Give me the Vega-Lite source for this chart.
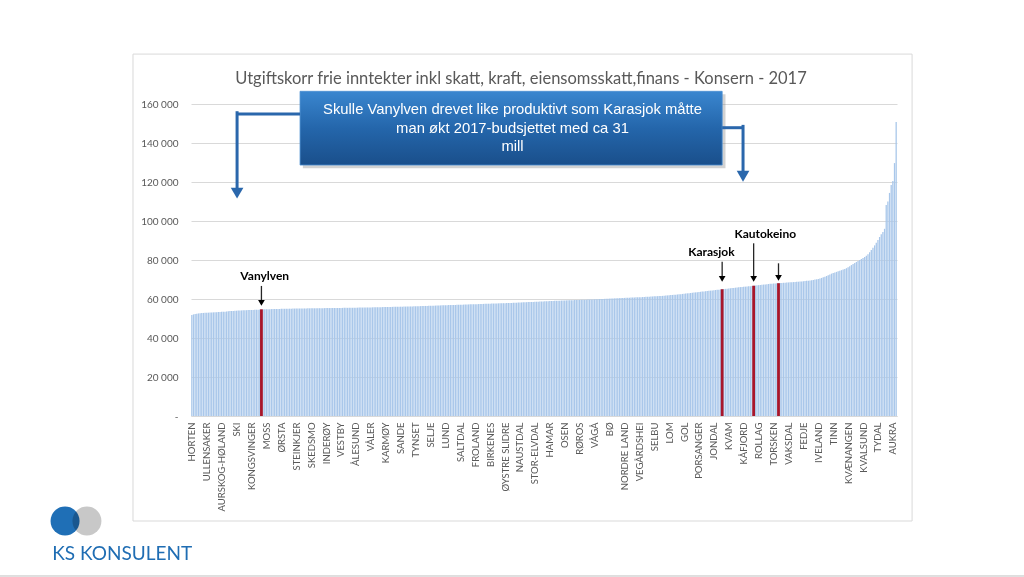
{
  "$schema": "https://vega.github.io/schema/vega-lite/v6.json",
  "width": 706,
  "height": 312,
  "autosize": "none",
  "padding": {"left": 191, "top": 104, "right": 127, "bottom": 161},
  "background": "white",
  "config": {"view": {"stroke": null}},
  "title": {
    "text": "Utgiftskorr frie inntekter inkl skatt, kraft, eiensomsskatt,finans - Konsern  - 2017",
    "font": "Lato", "fontSize": 16.5, "fontWeight": "normal", "color": "#595959",
    "anchor": "middle", "dx": -23, "offset": -34
  },
  "data": {"values": [{}]},
  "datasets": {
    "bars": [
{"i":0,"v":51800,"n":"HORTEN"},{"i":1,"v":52100},{"i":2,"v":52300},{"i":3,"v":52500},{"i":4,"v":52600},{"i":5,"v":52700},{"i":6,"v":52800},{"i":7,"v":52850},{"i":8,"v":52900},
{"i":9,"v":52950,"n":"ULLENSAKER"},{"i":10,"v":53000},{"i":11,"v":53050},{"i":12,"v":53100},{"i":13,"v":53150},{"i":14,"v":53200},{"i":15,"v":53250},{"i":16,"v":53300},{"i":17,"v":53350},
{"i":18,"v":53400,"n":"AURSKOG-HØLAND"},{"i":19,"v":53450},{"i":20,"v":53500},{"i":21,"v":53600},{"i":22,"v":53700},{"i":23,"v":53800},{"i":24,"v":53850},{"i":25,"v":53900},{"i":26,"v":53950},
{"i":27,"v":54000,"n":"SKI"},{"i":28,"v":54050},{"i":29,"v":54100},{"i":30,"v":54150},{"i":31,"v":54200},{"i":32,"v":54230},{"i":33,"v":54260},{"i":34,"v":54300},{"i":35,"v":54330},
{"i":36,"v":54360,"n":"KONGSVINGER"},{"i":37,"v":54400},{"i":38,"v":54450},{"i":39,"v":54500},{"i":40,"v":54550},{"i":41,"v":54620},{"i":42,"v":54700,"n":"VANYLVEN","hl":1},{"i":43,"v":54720},{"i":44,"v":54740},
{"i":45,"v":54760,"n":"MOSS"},{"i":46,"v":54780},{"i":47,"v":54800},{"i":48,"v":54820},{"i":49,"v":54840},{"i":50,"v":54860},{"i":51,"v":54880},{"i":52,"v":54900},{"i":53,"v":54920},
{"i":54,"v":54940,"n":"ØRSTA"},{"i":55,"v":54960},{"i":56,"v":54980},{"i":57,"v":55000},{"i":58,"v":55020},{"i":59,"v":55040},{"i":60,"v":55060},{"i":61,"v":55080},{"i":62,"v":55100},
{"i":63,"v":55110,"n":"STEINKJER"},{"i":64,"v":55120},{"i":65,"v":55130},{"i":66,"v":55140},{"i":67,"v":55150},{"i":68,"v":55160},{"i":69,"v":55180},{"i":70,"v":55200},{"i":71,"v":55210},
{"i":72,"v":55220,"n":"SKEDSMO"},{"i":73,"v":55230},{"i":74,"v":55240},{"i":75,"v":55250},{"i":76,"v":55260},{"i":77,"v":55280},{"i":78,"v":55300},{"i":79,"v":55310},{"i":80,"v":55320},
{"i":81,"v":55330,"n":"INDERØY"},{"i":82,"v":55340},{"i":83,"v":55350},{"i":84,"v":55360},{"i":85,"v":55370},{"i":86,"v":55380},{"i":87,"v":55400},{"i":88,"v":55410},{"i":89,"v":55420},
{"i":90,"v":55430,"n":"VESTBY"},{"i":91,"v":55440},{"i":92,"v":55450},{"i":93,"v":55460},{"i":94,"v":55470},{"i":95,"v":55480},{"i":96,"v":55490},{"i":97,"v":55500},{"i":98,"v":55520},
{"i":99,"v":55540,"n":"ÅLESUND"},{"i":100,"v":55560},{"i":101,"v":55580},{"i":102,"v":55600},{"i":103,"v":55610},{"i":104,"v":55620},{"i":105,"v":55640},{"i":106,"v":55660},{"i":107,"v":55680},
{"i":108,"v":55700,"n":"VÅLER"},{"i":109,"v":55720},{"i":110,"v":55740},{"i":111,"v":55760},{"i":112,"v":55780},{"i":113,"v":55800},{"i":114,"v":55820},{"i":115,"v":55840},{"i":116,"v":55860},
{"i":117,"v":55880,"n":"KARMØY"},{"i":118,"v":55900},{"i":119,"v":55920},{"i":120,"v":55940},{"i":121,"v":55960},{"i":122,"v":55980},{"i":123,"v":56000},{"i":124,"v":56020},{"i":125,"v":56040},
{"i":126,"v":56060,"n":"SANDE"},{"i":127,"v":56080},{"i":128,"v":56100},{"i":129,"v":56120},{"i":130,"v":56140},{"i":131,"v":56160},{"i":132,"v":56180},{"i":133,"v":56200},{"i":134,"v":56230},
{"i":135,"v":56260,"n":"TYNSET"},{"i":136,"v":56290},{"i":137,"v":56320},{"i":138,"v":56350},{"i":139,"v":56380},{"i":140,"v":56410},{"i":141,"v":56440},{"i":142,"v":56470},{"i":143,"v":56500},
{"i":144,"v":56530,"n":"SELJE"},{"i":145,"v":56560},{"i":146,"v":56590},{"i":147,"v":56620},{"i":148,"v":56650},{"i":149,"v":56680},{"i":150,"v":56710},{"i":151,"v":56740},{"i":152,"v":56770},
{"i":153,"v":56800,"n":"LUND"},{"i":154,"v":56830},{"i":155,"v":56860},{"i":156,"v":56890},{"i":157,"v":56920},{"i":158,"v":56950},{"i":159,"v":56980},{"i":160,"v":57010},{"i":161,"v":57040},
{"i":162,"v":57070,"n":"SALTDAL"},{"i":163,"v":57100},{"i":164,"v":57130},{"i":165,"v":57160},{"i":166,"v":57190},{"i":167,"v":57220},{"i":168,"v":57250},{"i":169,"v":57280},{"i":170,"v":57310},
{"i":171,"v":57340,"n":"FROLAND"},{"i":172,"v":57370},{"i":173,"v":57400},{"i":174,"v":57430},{"i":175,"v":57460},{"i":176,"v":57490},{"i":177,"v":57520},{"i":178,"v":57550},{"i":179,"v":57580},
{"i":180,"v":57610,"n":"BIRKENES"},{"i":181,"v":57640},{"i":182,"v":57670},{"i":183,"v":57700},{"i":184,"v":57730},{"i":185,"v":57760},{"i":186,"v":57790},{"i":187,"v":57820},{"i":188,"v":57850},
{"i":189,"v":57880,"n":"ØYSTRE SLIDRE"},{"i":190,"v":57910},{"i":191,"v":57940},{"i":192,"v":57970},{"i":193,"v":58000},{"i":194,"v":58040},{"i":195,"v":58080},{"i":196,"v":58120},{"i":197,"v":58160},
{"i":198,"v":58200,"n":"NAUSTDAL"},{"i":199,"v":58240},{"i":200,"v":58280},{"i":201,"v":58320},{"i":202,"v":58360},{"i":203,"v":58400},{"i":204,"v":58440},{"i":205,"v":58480},{"i":206,"v":58520},
{"i":207,"v":58560,"n":"STOR-ELVDAL"},{"i":208,"v":58600},{"i":209,"v":58640},{"i":210,"v":58680},{"i":211,"v":58720},{"i":212,"v":58760},{"i":213,"v":58800},{"i":214,"v":58840},{"i":215,"v":58880},
{"i":216,"v":58920,"n":"HAMAR"},{"i":217,"v":58960},{"i":218,"v":59000},{"i":219,"v":59040},{"i":220,"v":59080},{"i":221,"v":59120},{"i":222,"v":59160},{"i":223,"v":59200},{"i":224,"v":59230},
{"i":225,"v":59260,"n":"OSEN"},{"i":226,"v":59290},{"i":227,"v":59320},{"i":228,"v":59350},{"i":229,"v":59380},{"i":230,"v":59410},{"i":231,"v":59440},{"i":232,"v":59470},{"i":233,"v":59500},
{"i":234,"v":59530,"n":"RØROS"},{"i":235,"v":59560},{"i":236,"v":59590},{"i":237,"v":59620},{"i":238,"v":59650},{"i":239,"v":59680},{"i":240,"v":59720},{"i":241,"v":59760},{"i":242,"v":59800},
{"i":243,"v":59840,"n":"VÅGÅ"},{"i":244,"v":59880},{"i":245,"v":59920},{"i":246,"v":59960},{"i":247,"v":60000},{"i":248,"v":60040},{"i":249,"v":60080},{"i":250,"v":60120},{"i":251,"v":60160},
{"i":252,"v":60200,"n":"BØ"},{"i":253,"v":60240},{"i":254,"v":60280},{"i":255,"v":60320},{"i":256,"v":60360},{"i":257,"v":60400},{"i":258,"v":60440},{"i":259,"v":60480},{"i":260,"v":60520},
{"i":261,"v":60560,"n":"NORDRE LAND"},{"i":262,"v":60600},{"i":263,"v":60640},{"i":264,"v":60680},{"i":265,"v":60720},{"i":266,"v":60760},{"i":267,"v":60800},{"i":268,"v":60840},{"i":269,"v":60880},
{"i":270,"v":60920,"n":"VEGÅRDSHEI"},{"i":271,"v":60960},{"i":272,"v":61000},{"i":273,"v":61050},{"i":274,"v":61100},{"i":275,"v":61150},{"i":276,"v":61200},{"i":277,"v":61250},{"i":278,"v":61300},
{"i":279,"v":61350,"n":"SELBU"},{"i":280,"v":61400},{"i":281,"v":61450},{"i":282,"v":61500},{"i":283,"v":61550},{"i":284,"v":61600},{"i":285,"v":61680},{"i":286,"v":61760},{"i":287,"v":61840},
{"i":288,"v":61920,"n":"LOM"},{"i":289,"v":62000},{"i":290,"v":62080},{"i":291,"v":62160},{"i":292,"v":62240},{"i":293,"v":62320},{"i":294,"v":62400},{"i":295,"v":62500},{"i":296,"v":62600},
{"i":297,"v":62700,"n":"GOL"},{"i":298,"v":62800},{"i":299,"v":62900},{"i":300,"v":63000},{"i":301,"v":63100},{"i":302,"v":63200},{"i":303,"v":63300},{"i":304,"v":63400},{"i":305,"v":63500},
{"i":306,"v":63600,"n":"PORSANGER"},{"i":307,"v":63700},{"i":308,"v":63800},{"i":309,"v":63900},{"i":310,"v":64000},{"i":311,"v":64100},{"i":312,"v":64200},{"i":313,"v":64300},{"i":314,"v":64400},
{"i":315,"v":64500,"n":"JONDAL"},{"i":316,"v":64600},{"i":317,"v":64700},{"i":318,"v":64800},{"i":319,"v":64900},{"i":320,"v":65000,"n":"KARASJOK","hl":1},{"i":321,"v":65100},{"i":322,"v":65200},{"i":323,"v":65300},
{"i":324,"v":65400,"n":"KVAM"},{"i":325,"v":65500},{"i":326,"v":65600},{"i":327,"v":65700},{"i":328,"v":65800},{"i":329,"v":65900},{"i":330,"v":66000},{"i":331,"v":66100},{"i":332,"v":66180},
{"i":333,"v":66260,"n":"KÅFJORD"},{"i":334,"v":66340},{"i":335,"v":66420},{"i":336,"v":66500},{"i":337,"v":66580},{"i":338,"v":66680},{"i":339,"v":66800,"n":"KAUTOKEINO","hl":1},{"i":340,"v":66900},{"i":341,"v":67000},
{"i":342,"v":67100,"n":"ROLLAG"},{"i":343,"v":67200},{"i":344,"v":67300},{"i":345,"v":67400},{"i":346,"v":67500},{"i":347,"v":67600},{"i":348,"v":67700},{"i":349,"v":67780},{"i":350,"v":67860},
{"i":351,"v":67940,"n":"TORSKEN"},{"i":352,"v":68000},{"i":353,"v":68050},{"i":354,"v":68100,"hl":1},{"i":355,"v":68200},{"i":356,"v":68260},{"i":357,"v":68320},{"i":358,"v":68380},{"i":359,"v":68440},
{"i":360,"v":68500,"n":"VAKSDAL"},{"i":361,"v":68560},{"i":362,"v":68620},{"i":363,"v":68680},{"i":364,"v":68740},{"i":365,"v":68800},{"i":366,"v":68860},{"i":367,"v":68920},{"i":368,"v":69000},
{"i":369,"v":69100,"n":"FEDJE"},{"i":370,"v":69200},{"i":371,"v":69300},{"i":372,"v":69400},{"i":373,"v":69500},{"i":374,"v":69650},{"i":375,"v":69800},{"i":376,"v":69950},{"i":377,"v":70100},
{"i":378,"v":70300,"n":"IVELAND"},{"i":379,"v":70500},{"i":380,"v":70800},{"i":381,"v":71100},{"i":382,"v":71400},{"i":383,"v":71800},{"i":384,"v":72200},{"i":385,"v":72600},{"i":386,"v":73000},
{"i":387,"v":73300,"n":"TINN"},{"i":388,"v":73600},{"i":389,"v":73900},{"i":390,"v":74200},{"i":391,"v":74500},{"i":392,"v":74800},{"i":393,"v":75100},{"i":394,"v":75400},{"i":395,"v":75800},
{"i":396,"v":76300,"n":"KVÆNANGEN"},{"i":397,"v":76800},{"i":398,"v":77400},{"i":399,"v":78000},{"i":400,"v":78500},{"i":401,"v":79000},{"i":402,"v":79500},{"i":403,"v":80000},{"i":404,"v":80500},
{"i":405,"v":81000,"n":"KVALSUND"},{"i":406,"v":81500},{"i":407,"v":82200},{"i":408,"v":83000},{"i":409,"v":84000},{"i":410,"v":85100},{"i":411,"v":86300},{"i":412,"v":87500},{"i":413,"v":88800},
{"i":414,"v":90300,"n":"TYDAL"},{"i":415,"v":91800},{"i":416,"v":93200},{"i":417,"v":94400},{"i":418,"v":96000},{"i":419,"v":108200},{"i":420,"v":110000},{"i":421,"v":114400},{"i":422,"v":118500},
{"i":423,"v":120500,"n":"AUKRA"},{"i":424,"v":129700},{"i":425,"v":150800}
    ]
  },
  "layer": [
    {
      "data": {"name": "bars"},
      "mark": {"type": "bar", "size": 1.3, "color": "#a9c7ea"},
      "encoding": {
        "x": {
          "field": "i", "type": "quantitative",
          "scale": {"domain": [-0.5, 425.5], "nice": false, "zero": false, "padding": 0},
          "axis": {
            "title": null, "grid": false, "ticks": false, "tickCount": 100,
            "domainColor": "#d9d9d9",
            "values": [0,9,18,27,36,45,54,63,72,81,90,99,108,117,126,135,144,153,162,171,180,189,198,207,216,225,234,243,252,261,270,279,288,297,306,315,324,333,342,351,360,369,378,387,396,405,414,423],
            "labelExpr": "['HORTEN','ULLENSAKER','AURSKOG-HØLAND','SKI','KONGSVINGER','MOSS','ØRSTA','STEINKJER','SKEDSMO','INDERØY','VESTBY','ÅLESUND','VÅLER','KARMØY','SANDE','TYNSET','SELJE','LUND','SALTDAL','FROLAND','BIRKENES','ØYSTRE SLIDRE','NAUSTDAL','STOR-ELVDAL','HAMAR','OSEN','RØROS','VÅGÅ','BØ','NORDRE LAND','VEGÅRDSHEI','SELBU','LOM','GOL','PORSANGER','JONDAL','KVAM','KÅFJORD','ROLLAG','TORSKEN','VAKSDAL','FEDJE','IVELAND','TINN','KVÆNANGEN','KVALSUND','TYDAL','AUKRA'][round(datum.value/9)]",
            "labelAngle": -90, "labelAlign": "right", "labelBaseline": "middle",
            "labelPadding": 6, "labelFont": "Lato", "labelFontSize": 9.5, "labelColor": "#595959",
            "labelOverlap": false, "labelBound": false, "labelFlush": false
          }
        },
        "y": {
          "field": "v", "type": "quantitative",
          "scale": {"domain": [0, 160000], "nice": false},
          "axis": {
            "title": null, "ticks": false, "domain": false, "grid": true, "tickCount": 20,
            "values": [0,20000,40000,60000,80000,100000,120000,140000,160000],
            "labelExpr": "datum.value == 0 ? '-' : replace(format(datum.value, ','), ',', ' ')",
            "gridColor": "#d9d9d9", "gridWidth": 1, "labelOverlap": false,
            "labelPadding": 13, "labelFont": "Lato", "labelFontSize": 10, "labelColor": "#595959"
          }
        }
      }
    },
    {
      "data": {"name": "bars"},
      "transform": [{"filter": "datum.hl == 1"}],
      "mark": {"type": "bar", "size": 2.8, "color": "#a8162a"},
      "encoding": {
        "x": {"field": "i", "type": "quantitative"},
        "y": {"field": "v", "type": "quantitative"}
      }
    },
    {
      "mark": {"type": "rect", "fill": "white", "fillOpacity": 0, "stroke": "#d9d9d9", "strokeWidth": 1, "clip": false},
      "encoding": {
        "x": {"datum": -35.5}, "x2": {"datum": 434.6},
        "y": {"datum": 185600}, "y2": {"datum": -53850}
      }
    },
    {
      "mark": {"type": "rule", "color": "#bfbfbf", "strokeWidth": 1, "clip": false},
      "encoding": {
        "x": {"datum": -115.8}, "x2": {"datum": 502.2},
        "y": {"datum": -82050}
      }
    },
    {
      "mark": {"type": "point", "shape": "circle", "filled": true, "size": 841, "color": "#c8c8c8", "opacity": 1, "clip": false},
      "encoding": {"x": {"datum": -63.3}, "y": {"datum": -53850}}
    },
    {
      "mark": {"type": "point", "shape": "circle", "filled": true, "size": 841, "color": "#1f6fb6", "opacity": 1, "blend": "multiply", "clip": false},
      "encoding": {"x": {"datum": -76.5}, "y": {"datum": -53850}}
    },
    {
      "mark": {"type": "text", "text": "KS KONSULENT", "font": "Lato", "fontSize": 19, "color": "#1f6db3", "align": "center", "baseline": "middle", "clip": false},
      "encoding": {"x": {"datum": -42}, "y": {"datum": -70600}}
    },
    {
      "mark": {"type": "rect", "color": "#7f7f7f", "opacity": 0.35, "clip": false},
      "encoding": {
        "x": {"datum": 67.0}, "x2": {"datum": 322.0},
        "y": {"datum": 165000}, "y2": {"datum": 127000}
      }
    },
    {
      "mark": {"type": "rect", "clip": false, "stroke": "#4a8ed2", "strokeWidth": 0.8,
        "fill": {"gradient": "linear", "x1": 0, "y1": 0, "x2": 0, "y2": 1,
          "stops": [{"offset": 0, "color": "#3a86cf"}, {"offset": 0.5, "color": "#2466ab"}, {"offset": 1, "color": "#1a4f8b"}]}},
      "encoding": {
        "x": {"datum": 65.3}, "x2": {"datum": 320.0},
        "y": {"datum": 166500}, "y2": {"datum": 128700}
      }
    },
    {
      "mark": {"type": "text", "text": ["Skulle Vanylven drevet like produktivt som Karasjok måtte", "man økt 2017-budsjettet med ca 31", "mill"],
        "font": "Liberation Sans", "fontSize": 14.8, "color": "white", "align": "center", "baseline": "middle", "lineHeight": 18.5, "clip": false},
      "encoding": {"x": {"datum": 193.5}, "y": {"datum": 156900}}
    },
    {
      "mark": {"type": "rule", "color": "#2a67ac", "strokeWidth": 3, "clip": false},
      "encoding": {"x": {"datum": 27.3}, "x2": {"datum": 65.3}, "y": {"datum": 154870}}
    },
    {
      "mark": {"type": "rule", "color": "#2a67ac", "strokeWidth": 3, "clip": false},
      "encoding": {"x": {"datum": 27.3}, "y": {"datum": 156300}, "y2": {"datum": 116000}}
    },
    {
      "mark": {"type": "point", "shape": "triangle-down", "filled": true, "size": 160, "color": "#2a67ac", "opacity": 1, "clip": false},
      "encoding": {"x": {"datum": 27.3}, "y": {"datum": 114300}}
    },
    {
      "mark": {"type": "rule", "color": "#2a67ac", "strokeWidth": 3, "clip": false},
      "encoding": {"x": {"datum": 320.0}, "x2": {"datum": 332.6}, "y": {"datum": 147840}}
    },
    {
      "mark": {"type": "rule", "color": "#2a67ac", "strokeWidth": 3, "clip": false},
      "encoding": {"x": {"datum": 332.6}, "y": {"datum": 149300}, "y2": {"datum": 125000}}
    },
    {
      "mark": {"type": "point", "shape": "triangle-down", "filled": true, "size": 160, "color": "#2a67ac", "opacity": 1, "clip": false},
      "encoding": {"x": {"datum": 332.6}, "y": {"datum": 123000}}
    },
    {
      "mark": {"type": "rule", "color": "#262626", "strokeWidth": 1.3},
      "encoding": {"x": {"datum": 42}, "y": {"datum": 66700}, "y2": {"datum": 59500}}
    },
    {
      "mark": {"type": "point", "shape": "triangle-down", "filled": true, "size": 45, "color": "#000000", "opacity": 1},
      "encoding": {"x": {"datum": 42}, "y": {"datum": 58000}}
    },
    {
      "mark": {"type": "text", "text": "Vanylven", "font": "Lato", "fontWeight": "bold", "fontSize": 12, "color": "#000000", "align": "center", "baseline": "middle"},
      "encoding": {"x": {"datum": 44}, "y": {"datum": 71800}}
    },
    {
      "mark": {"type": "rule", "color": "#262626", "strokeWidth": 1.3},
      "encoding": {"x": {"datum": 320}, "y": {"datum": 79100}, "y2": {"datum": 71800}}
    },
    {
      "mark": {"type": "point", "shape": "triangle-down", "filled": true, "size": 45, "color": "#000000", "opacity": 1},
      "encoding": {"x": {"datum": 320}, "y": {"datum": 70300}}
    },
    {
      "mark": {"type": "text", "text": "Karasjok", "font": "Lato", "fontWeight": "bold", "fontSize": 12, "color": "#000000", "align": "center", "baseline": "middle"},
      "encoding": {"x": {"datum": 313.5}, "y": {"datum": 84100}}
    },
    {
      "mark": {"type": "rule", "color": "#262626", "strokeWidth": 1.3},
      "encoding": {"x": {"datum": 339}, "y": {"datum": 88560}, "y2": {"datum": 71800}}
    },
    {
      "mark": {"type": "point", "shape": "triangle-down", "filled": true, "size": 45, "color": "#000000", "opacity": 1},
      "encoding": {"x": {"datum": 339}, "y": {"datum": 70300}}
    },
    {
      "mark": {"type": "text", "text": "Kautokeino", "font": "Lato", "fontWeight": "bold", "fontSize": 12, "color": "#000000", "align": "center", "baseline": "middle"},
      "encoding": {"x": {"datum": 346}, "y": {"datum": 93300}}
    },
    {
      "mark": {"type": "rule", "color": "#262626", "strokeWidth": 1.3},
      "encoding": {"x": {"datum": 354}, "y": {"datum": 78300}, "y2": {"datum": 72300}}
    },
    {
      "mark": {"type": "point", "shape": "triangle-down", "filled": true, "size": 45, "color": "#000000", "opacity": 1},
      "encoding": {"x": {"datum": 354}, "y": {"datum": 70800}}
    }
  ]
}
